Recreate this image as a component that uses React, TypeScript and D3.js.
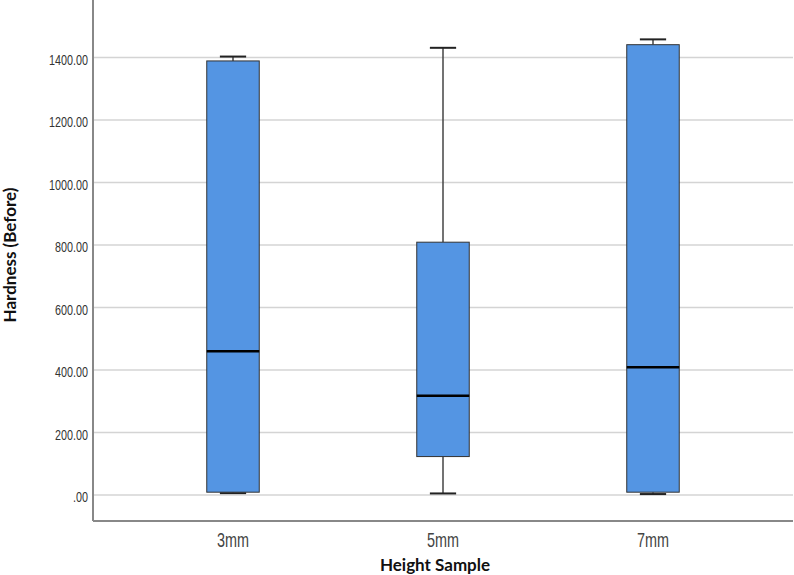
import { useEffect } from 'react';
import * as d3 from 'd3';

// Hardness summary per sample height (min, Q1, median, Q3, max)
const categories = ['3mm', '5mm', '7mm'];
const minValues = [6, 5, 3];
const q1Values = [9, 123, 9];
const medianValues = [460, 318, 409];
const q3Values = [1389, 809, 1441];
const maxValues = [1403, 1431, 1458];
const yTicks = [0, 200, 400, 600, 800, 1000, 1200, 1400];

const W = 794;
const H = 575;
const plot = { left: 93, right: 793, top: 0, bottom: 521 };

// no condensed face installed, so the regular one gets squeezed horizontally
const tickFont = "'Liberation Sans', Arial, sans-serif";
const titleFont = "Lato, 'Open Sans', sans-serif";

export default function App() {
  useEffect(() => {
    document.body.style.margin = '0';
  }, []);

  const x = d3.scalePoint<string>()
    .domain(categories)
    .range([plot.left, plot.right])
    .padding(0.6667);

  const y = d3.scaleLinear()
    .domain([0, 1400])
    .range([495, 57.5]);

  const boxW = x.step() * 0.25;
  const capW = boxW / 2;

  const fmt = (v: number) => (v === 0 ? '.00' : v.toFixed(2));

  const rows = categories.map((c, i) => ({
    c,
    min: minValues[i],
    q1: q1Values[i],
    med: medianValues[i],
    q3: q3Values[i],
    max: maxValues[i],
  }));

  return (
    <svg width={W} height={H} style={{ display: 'block', background: '#fff' }}>
      {/* grid */}
      {yTicks.map((t) => (
        <line key={`g${t}`} x1={plot.left} x2={plot.right} y1={y(t)} y2={y(t)}
          stroke="#d4d4d4" strokeWidth={1.6} />
      ))}
      {/* y tick labels */}
      {yTicks.map((t) => (
        <text key={`t${t}`} transform={`translate(88, ${y(t) + 7}) scale(0.77, 1)`} textAnchor="end"
          fontFamily={tickFont} fontSize={14} fill="#333">{fmt(t)}</text>
      ))}

      {rows.map((r) => {
        const cx = x(r.c) as number;
        return (
          <g key={r.c}>
            {/* whiskers */}
            <line x1={cx} x2={cx} y1={y(r.q3)} y2={y(r.max)} stroke="#444" strokeWidth={1.5} />
            <line x1={cx} x2={cx} y1={y(r.q1)} y2={y(r.min)} stroke="#444" strokeWidth={1.5} />
            <line x1={cx - capW / 2} x2={cx + capW / 2} y1={y(r.max)} y2={y(r.max)} stroke="#222" strokeWidth={2} />
            <line x1={cx - capW / 2} x2={cx + capW / 2} y1={y(r.min)} y2={y(r.min)} stroke="#222" strokeWidth={2} />
            {/* box */}
            <rect x={cx - boxW / 2} y={y(r.q3)} width={boxW} height={y(r.q1) - y(r.q3)}
              fill="#5495e3" stroke="#333" strokeWidth={1} />
            {/* median */}
            <line x1={cx - boxW / 2} x2={cx + boxW / 2} y1={y(r.med)} y2={y(r.med)} stroke="#000" strokeWidth={2.5} />
            <text transform={`translate(${cx}, 546.5) scale(0.72, 1)`} textAnchor="middle"
              fontFamily={tickFont} fontSize={20} fill="#444">{r.c}</text>
          </g>
        );
      })}

      {/* axes */}
      <line x1={plot.left} x2={plot.left} y1={plot.top} y2={plot.bottom} stroke="#888" strokeWidth={2} />
      <line x1={plot.left} x2={plot.right} y1={plot.bottom} y2={plot.bottom} stroke="#888" strokeWidth={2} />

      {/* axis titles */}
      <text x={435} y={571} textAnchor="middle" fontFamily={titleFont} fontWeight={700} fontSize={17} fill="#111">
        Height Sample
      </text>
      <text transform={`translate(16, 255) rotate(-90)`} textAnchor="middle" fontFamily={titleFont}
        fontWeight={700} fontSize={17} fill="#111">
        Hardness (Before)
      </text>
    </svg>
  );
}
